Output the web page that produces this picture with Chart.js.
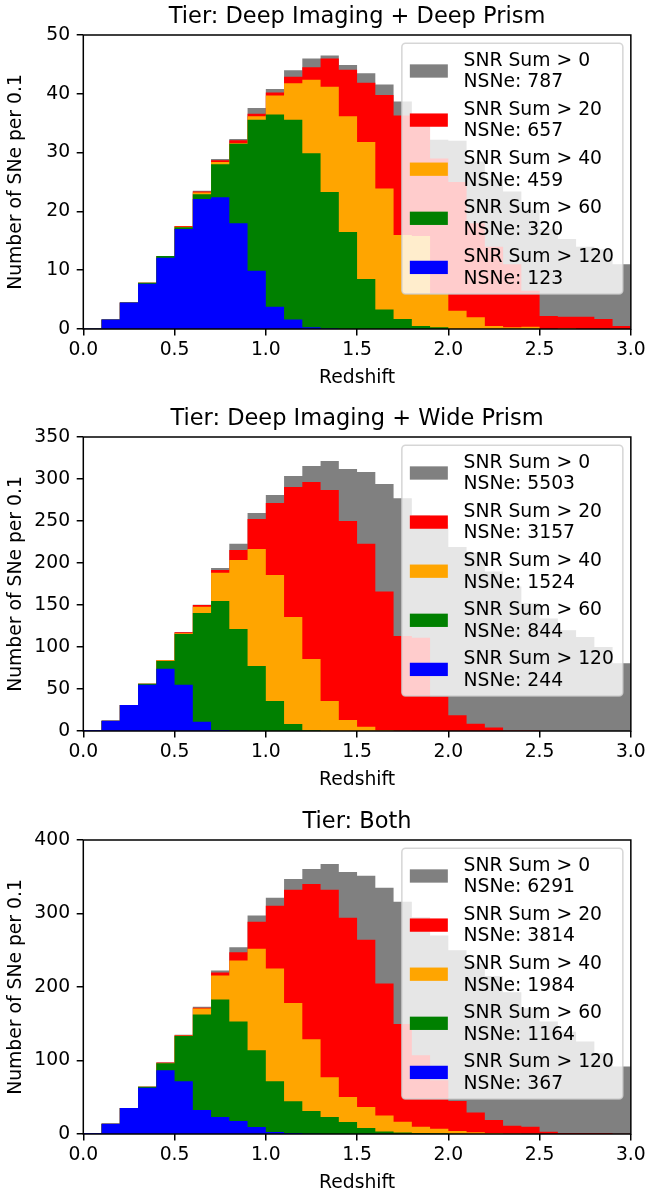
<!DOCTYPE html>
<html>
<head>
<meta charset="utf-8">
<title>SNe redshift distributions by tier</title>
<script src="https://cdn.jsdelivr.net/npm/chart.js"></script>
<style>
  html, body { margin: 0; padding: 0; background: #fff; }
  body { width: 649px; height: 1190px; position: relative; overflow: hidden; }
  canvas { position: absolute; left: 0; }
</style>
</head>
<body>
<canvas id="tierDeepDeep" width="649" height="402" style="top:0px"></canvas>
<canvas id="tierDeepWide" width="649" height="402" style="top:402px"></canvas>
<canvas id="tierBoth" width="649" height="402" style="top:805px"></canvas>

<script>
  // redshift bin edges, 0.1 wide
  const binEdges = [0.0, 0.1, 0.2, 0.3, 0.4, 0.5, 0.6, 0.7, 0.8, 0.9, 1.0,
                    1.1, 1.2, 1.3, 1.4, 1.5, 1.6, 1.7, 1.8, 1.9, 2.0,
                    2.1, 2.2, 2.3, 2.4, 2.5, 2.6, 2.7, 2.8, 2.9, 3.0];

  const snrCuts = ['SNR Sum > 0', 'SNR Sum > 20', 'SNR Sum > 40', 'SNR Sum > 60', 'SNR Sum > 120'];
  const cutColors = ['#808080', '#ff0000', '#ffa500', '#008000', '#0000ff'];

  // Tier: Deep Imaging + Deep Prism
  const deepDeepSnr0   = [0.1, 1.6, 4.5, 7.85, 12.4, 17.5, 23.5, 28.9, 32.3, 37.6, 40.8, 44.0, 46.0, 46.5, 44.9, 43.5, 41.6, 38.7, 36.3, 32.2, 32.0, 28.5, 25.5, 23.4, 20.3, 17.0, 15.3, 14.0, 13.5, 11.0];
  const deepDeepSnr20  = [0.1, 1.6, 4.5, 7.85, 12.4, 17.5, 23.4, 28.7, 32.1, 36.6, 40.2, 42.9, 44.5, 46.0, 44.1, 41.9, 39.8, 36.3, 36.3, 29.0, 25.0, 18.0, 14.0, 11.0, 6.5, 2.2, 2.1, 2.1, 1.7, 0.5];
  const deepDeepSnr40  = [0.1, 1.6, 4.5, 7.85, 12.4, 17.4, 23.2, 28.4, 31.6, 36.2, 39.7, 41.8, 42.4, 41.2, 36.2, 31.8, 23.9, 16.0, 15.8, 6.0, 3.1, 2.0, 0.5, 0.3, 0.4, 0, 0.1, 0, 0, 0];
  const deepDeepSnr60  = [0.1, 1.6, 4.5, 7.85, 12.4, 17.3, 22.9, 28.0, 31.5, 35.6, 36.5, 35.6, 29.9, 23.3, 16.5, 8.5, 3.3, 1.7, 0.5, 0.3, 0, 0, 0, 0, 0, 0, 0, 0, 0, 0];
  const deepDeepSnr120 = [0.1, 1.6, 4.5, 7.7, 12.1, 17.0, 22.1, 22.4, 18.0, 9.9, 3.8, 1.6, 0.3, 0.1, 0, 0, 0, 0, 0, 0, 0, 0, 0, 0, 0, 0, 0, 0, 0, 0];
  const deepDeepCounts = [787, 657, 459, 320, 123];

  // Tier: Deep Imaging + Wide Prism
  const deepWideSnr0   = [1.2, 12.3, 31, 56.3, 84.1, 117.5, 150.4, 194, 223, 259.5, 281, 303.6, 315.5, 321.4, 311.9, 308.3, 294, 277, 257, 245, 219, 212, 190, 172, 152, 134, 120, 112, 100, 80.6];
  const deepWideSnr20  = [1.2, 12.3, 31, 56.3, 84.1, 117.5, 150, 191.7, 215.5, 252.4, 271.4, 290.5, 296.4, 286.9, 250, 223, 166, 113, 111, 41, 18.7, 8.7, 4.1, 0.6, 0.6, 0, 0, 0, 0, 0];
  const deepWideSnr40  = [1.2, 12.3, 31, 56.3, 84.1, 116.3, 148, 188.5, 203.6, 216.7, 185.7, 135.7, 85.7, 35.7, 13.1, 5.2, 1.0, 0.3, 0, 0, 0, 0, 0, 0, 0, 0, 0, 0, 0, 0];
  const deepWideSnr60  = [1.2, 12.3, 31, 56.3, 83.3, 115.5, 140.5, 154.8, 121.4, 77.4, 35.7, 8.3, 0.8, 0.3, 0, 0, 0, 0, 0, 0, 0, 0, 0, 0, 0, 0, 0, 0, 0, 0];
  const deepWideSnr120 = [1.2, 12.3, 31, 55.2, 74.2, 55.2, 11.1, 1.2, 0.4, 0, 0, 0, 0, 0, 0, 0, 0, 0, 0, 0, 0, 0, 0, 0, 0, 0, 0, 0, 0, 0];
  const deepWideCounts = [5503, 3157, 1524, 844, 244];

  // Tier: Both
  const bothSnr0   = [1.4, 14, 35.3, 64.2, 97.2, 135.1, 173.1, 222.4, 254, 297.4, 321.4, 347.1, 360.7, 367.5, 356.6, 351.2, 334.9, 316, 295, 270, 250, 232, 215, 193, 171, 153, 139, 126, 110, 92];
  const bothSnr20  = [1.4, 14, 35.3, 64.2, 97.2, 134.2, 171.8, 219.7, 247.2, 288.8, 310.5, 332.2, 340.3, 332.2, 294.2, 264.4, 204.7, 149.6, 107, 73, 45, 29.4, 19, 11.3, 9.9, 3.2, 1.4, 1.4, 1.4, 0.3];
  const bothSnr40  = [1.4, 14, 35.3, 64.2, 96.3, 133.8, 170.8, 215.6, 235.9, 252.2, 225.1, 178.1, 128.8, 77.3, 50.2, 36.6, 25.3, 16.5, 10, 7, 4, 2.5, 1.2, 0.8, 0.5, 0, 0, 0, 0, 0];
  const bothSnr60  = [1.4, 14, 35.3, 64.2, 96.3, 133.3, 162.7, 183, 153.2, 113.9, 71.9, 44.7, 31.2, 23.1, 16.3, 8.1, 3.5, 2, 1.5, 1, 0.5, 0, 0, 0, 0, 0, 0, 0, 0, 0];
  const bothSnr120 = [1.4, 14, 35.3, 62.8, 86.8, 71.9, 32.5, 23.1, 17.6, 9.5, 2.7, 1.4, 0.5, 0, 0, 0, 0, 0, 0, 0, 0, 0, 0, 0, 0, 0, 0, 0, 0, 0];
  const bothCounts = [6291, 3814, 1984, 1164, 367];

  const FONT_FAMILY = 'DejaVu Sans';
  const FONT_SIZE = 18.75;

  Chart.defaults.font.family = FONT_FAMILY;
  Chart.defaults.font.size = FONT_SIZE;
  Chart.defaults.color = '#000';

  function roundRectPath(ctx, x, y, w, h, r) {
    ctx.beginPath();
    ctx.moveTo(x + r, y);
    ctx.lineTo(x + w - r, y);
    ctx.arcTo(x + w, y, x + w, y + r, r);
    ctx.lineTo(x + w, y + h - r);
    ctx.arcTo(x + w, y + h, x + w - r, y + h, r);
    ctx.lineTo(x + r, y + h);
    ctx.arcTo(x, y + h, x, y + h - r, r);
    ctx.lineTo(x, y + r);
    ctx.arcTo(x, y, x + r, y, r);
    ctx.closePath();
  }

  // axes box and the translucent legend on top of the histograms
  const frameLegend = {
    id: 'frameLegend',
    afterDatasetsDraw(chart, args, opts) {
      const { ctx, chartArea: a } = chart;
      ctx.save();
      ctx.strokeStyle = '#000';
      ctx.lineWidth = 1.5;
      ctx.strokeRect(a.left, a.top, a.right - a.left, a.bottom - a.top);

      const w = 221, h = 250.7;
      const x0 = a.right - 8 - w, y0 = a.top + 8.3;
      roundRectPath(ctx, x0, y0, w, h, 3.75);
      ctx.fillStyle = 'rgba(255,255,255,0.8)';
      ctx.fill();
      ctx.strokeStyle = 'rgba(204,204,204,0.8)';
      ctx.lineWidth = 1.5;
      ctx.stroke();

      ctx.font = FONT_SIZE + 'px "' + FONT_FAMILY + '"';
      ctx.textAlign = 'left';
      ctx.textBaseline = 'alphabetic';
      opts.labels.forEach((lab, i) => {
        const cy = y0 + 27.7 + i * 49.1;
        ctx.fillStyle = opts.colors[i];
        ctx.fillRect(x0 + 8, cy - 6.65, 38, 13.3);
        ctx.fillStyle = '#000';
        ctx.fillText(lab, x0 + 61.7, cy - 5.3);
        ctx.fillText('NSNe: ' + opts.counts[i], x0 + 61.7, cy + 16.3);
      });
      ctx.restore();
    }
  };

  function makePanel(id, title, yMax, yStep, series, counts) {
    const datasets = series.map((vals, k) => ({
      label: snrCuts[k],
      // left edge of every bin, plus the closing right edge at 3.0
      data: binEdges.map((x, i) => ({ x: x, y: vals[Math.min(i, vals.length - 1)] })),
      backgroundColor: cutColors[k],
      borderColor: 'rgba(0,0,0,0)',
      borderWidth: 0,
      pointRadius: 0,
      stepped: 'before',
      fill: 'origin',
      order: series.length - k   // lowest cut drawn underneath
    }));

    new Chart(document.getElementById(id), {
      type: 'line',
      data: { datasets },
      options: {
        responsive: false,
        animation: false,
        devicePixelRatio: 1,
        layout: { padding: { left: 0, right: 16.7, top: 0, bottom: 13 } },
        plugins: {
          legend: { display: false },
          tooltip: { enabled: false },
          title: {
            display: true,
            fullSize: false,
            text: title,
            color: '#000',
            font: { size: 22.5, weight: 'normal' },
            padding: { top: 3.6, bottom: 4.4 }
          },
          frameLegend: { labels: snrCuts, colors: cutColors, counts: counts }
        },
        scales: {
          x: {
            type: 'linear',
            min: 0,
            max: 3,
            afterFit(scale) { scale.height = 60; },
            border: { display: false },
            grid: { drawOnChartArea: false, drawTicks: true, tickLength: 6.6, color: '#000', lineWidth: 1.5 },
            ticks: { stepSize: 0.5, padding: 3.25, maxRotation: 0, color: '#000',
                     callback: v => v.toFixed(1) },
            title: { display: true, text: 'Redshift', color: '#000', padding: { top: 0, bottom: 0 } }
          },
          y: {
            min: 0,
            max: yMax,
            afterFit(scale) { scale.width = 83.3; },
            border: { display: false },
            grid: { drawOnChartArea: false, drawTicks: true, tickLength: 6.6, color: '#000', lineWidth: 1.5 },
            ticks: { stepSize: yStep, padding: 6.6, color: '#000' },
            title: { display: true, text: 'Number of SNe per 0.1', color: '#000', padding: { top: 5.25, bottom: 0 } }
          }
        }
      },
      plugins: [frameLegend]
    });
  }

  makePanel('tierDeepDeep', 'Tier: Deep Imaging + Deep Prism', 50, 10,
    [deepDeepSnr0, deepDeepSnr20, deepDeepSnr40, deepDeepSnr60, deepDeepSnr120], deepDeepCounts);
  makePanel('tierDeepWide', 'Tier: Deep Imaging + Wide Prism', 350, 50,
    [deepWideSnr0, deepWideSnr20, deepWideSnr40, deepWideSnr60, deepWideSnr120], deepWideCounts);
  makePanel('tierBoth', 'Tier: Both', 400, 100,
    [bothSnr0, bothSnr20, bothSnr40, bothSnr60, bothSnr120], bothCounts);
</script>
</body>
</html>
